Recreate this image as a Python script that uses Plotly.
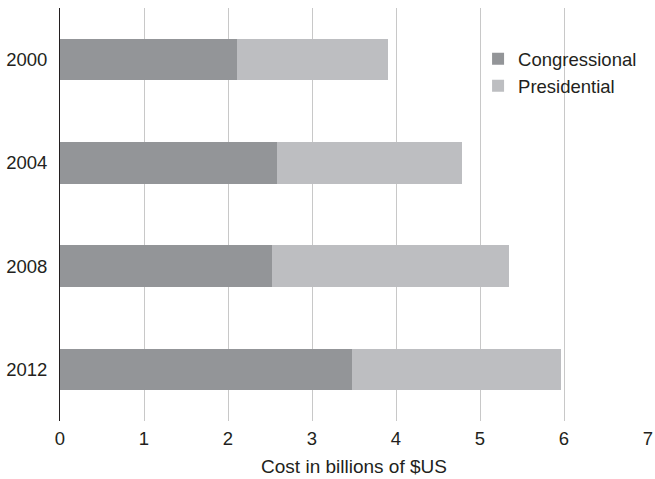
import plotly.graph_objects as go

years = ["2000", "2004", "2008", "2012"]
congressional = [2.11, 2.58, 2.52, 3.48]
presidential = [1.79, 2.21, 2.83, 2.49]
x_ticks = [0, 1, 2, 3, 4, 5, 6, 7]
x_title = "Cost in billions of $US"

FONT = "Liberation Sans, Arial, Helvetica, sans-serif"
TXT = "#231f20"

fig = go.Figure()
fig.add_trace(go.Bar(y=years, x=congressional, orientation="h", name="Congressional",
                     marker=dict(color="#939598", line=dict(width=0))))
fig.add_trace(go.Bar(y=years, x=presidential, orientation="h", name="Presidential",
                     marker=dict(color="#bdbec1", line=dict(width=0))))

fig.update_layout(
    width=655, height=479,
    barmode="stack", bargap=0.6,
    margin=dict(l=59.5, r=7, t=8, b=58, autoexpand=False),
    paper_bgcolor="white", plot_bgcolor="white",
    font=dict(family=FONT, size=18, color=TXT),
    legend=dict(x=0.711, y=0.922, xanchor="left", yanchor="top", traceorder="normal",
                bgcolor="rgba(0,0,0,0)", font=dict(size=18.5, color=TXT),
                tracegroupgap=0, itemwidth=30),
    xaxis=dict(range=[0, 7], tickvals=x_ticks, showgrid=True, gridcolor="#c8c8c8",
               gridwidth=1, zeroline=False, showline=False, ticks="", automargin=False,
               ticklabeloverflow="allow", ticklabelstandoff=4,
               title=dict(text=x_title, font=dict(size=19, color=TXT), standoff=12),
               tickfont=dict(size=18.5, color=TXT)),
    yaxis=dict(categoryorder="array", categoryarray=years, autorange="reversed",
               showgrid=False, zeroline=False, showline=True, linecolor=TXT, linewidth=1,
               ticks="", ticklabelstandoff=8, automargin=False, ticklabeloverflow="allow",
               tickfont=dict(size=18.5, color=TXT)),
    showlegend=True,
)

fig.write_html("out.html", config={"displayModeBar": False},
               post_script="document.body.style.margin='0';")
